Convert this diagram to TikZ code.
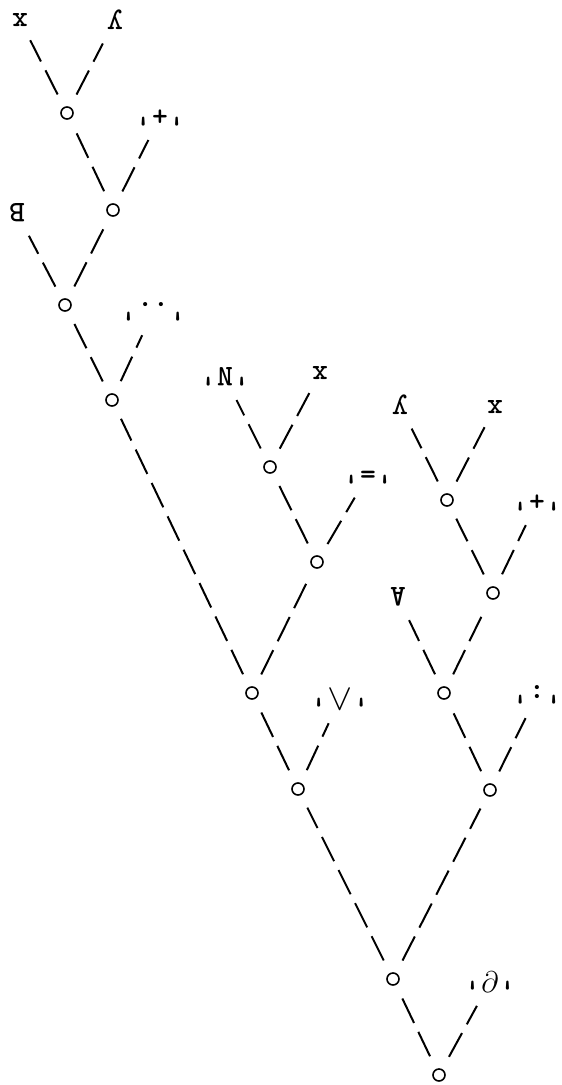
\documentclass[tikz,border=0pt]{standalone}
\usepackage{amsmath,amssymb}
\usepackage{fontspec}
\usepackage{tikz}
\tikzset{
  knot/.style={circle,draw,line width=1.6pt,minimum size=12pt,inner sep=0pt},
  leaf/.style={font=\fontsize{30}{34}\selectfont\ttfamily\bfseries,rotate=180,inner sep=1pt},
  arm/.style={line width=2pt,dash pattern=on 27pt off 10pt,shorten <=14pt,shorten >=14pt}
}
\newcommand{\qt}[1]{'\hspace{1pt}#1\hspace{1pt}'}

\begin{document}
\begin{tikzpicture}[x=1pt,y=-1pt]
\useasboundingbox (0,0) rectangle (562,1085);
\node[leaf] (x1) at (20,20) {x};
\node[leaf] (y1) at (115,20) {y};
\node[knot] (n1) at (67,113) {};
\node[leaf] (p1) at (160,117) {\qt{+}};
\node[knot] (n2) at (113,210) {};
\node[leaf] (b1) at (17,213) {B};
\node[knot] (n3) at (65,305) {};
\node[leaf] (d1) at (153,312) {\qt{..}};
\node[knot] (n4) at (112,400) {};

\node[leaf] (nn) at (225,377) {\qt{N}};
\node[leaf] (x2) at (320,373) {x};
\node[knot] (m1) at (270,467) {};
\node[leaf] (e1) at (368,475) {\qt{=}};
\node[knot] (m2) at (317,562) {};
\node[knot] (m3) at (252,693) {};
\node[leaf] (v1) at (340,699) {\qt{\scalebox{1.5}{$\wedge$}}};
\node[knot] (m4) at (298,789) {};

\node[leaf] (y3) at (400,405) {y};
\node[leaf] (x3) at (495,407) {x};
\node[knot] (k1) at (447,500) {};
\node[leaf] (p3) at (537,502) {\qt{+}};
\node[knot] (k2) at (493,593) {};
\node[leaf] (a1) at (398,597) {A};
\node[knot] (k3) at (444,693) {};
\node[leaf] (c1) at (537,695) {\qt{:}};
\node[knot] (k4) at (490,790) {};

\node[knot] (r1) at (393,979) {};
\node[leaf] (pd) at (490,982) {\qt{\rotatebox[origin=c]{180}{\scalebox{1.2}{$\partial$}}}};
\node[knot] (r0) at (439,1075) {};

\foreach \a/\b in {n1/x1,n1/y1,n2/n1,n2/p1,n3/b1,n3/n2,n4/n3,n4/d1,
  m1/nn,m1/x2,m2/m1,m2/e1,m3/n4,m3/m2,m4/m3,m4/v1,
  k1/y3,k1/x3,k2/k1,k2/p3,k3/a1,k3/k2,k4/k3,k4/c1,
  r1/m4,r1/k4,r0/r1,r0/pd}
  \draw[arm] (\a) -- (\b);
\end{tikzpicture}
\end{document}
